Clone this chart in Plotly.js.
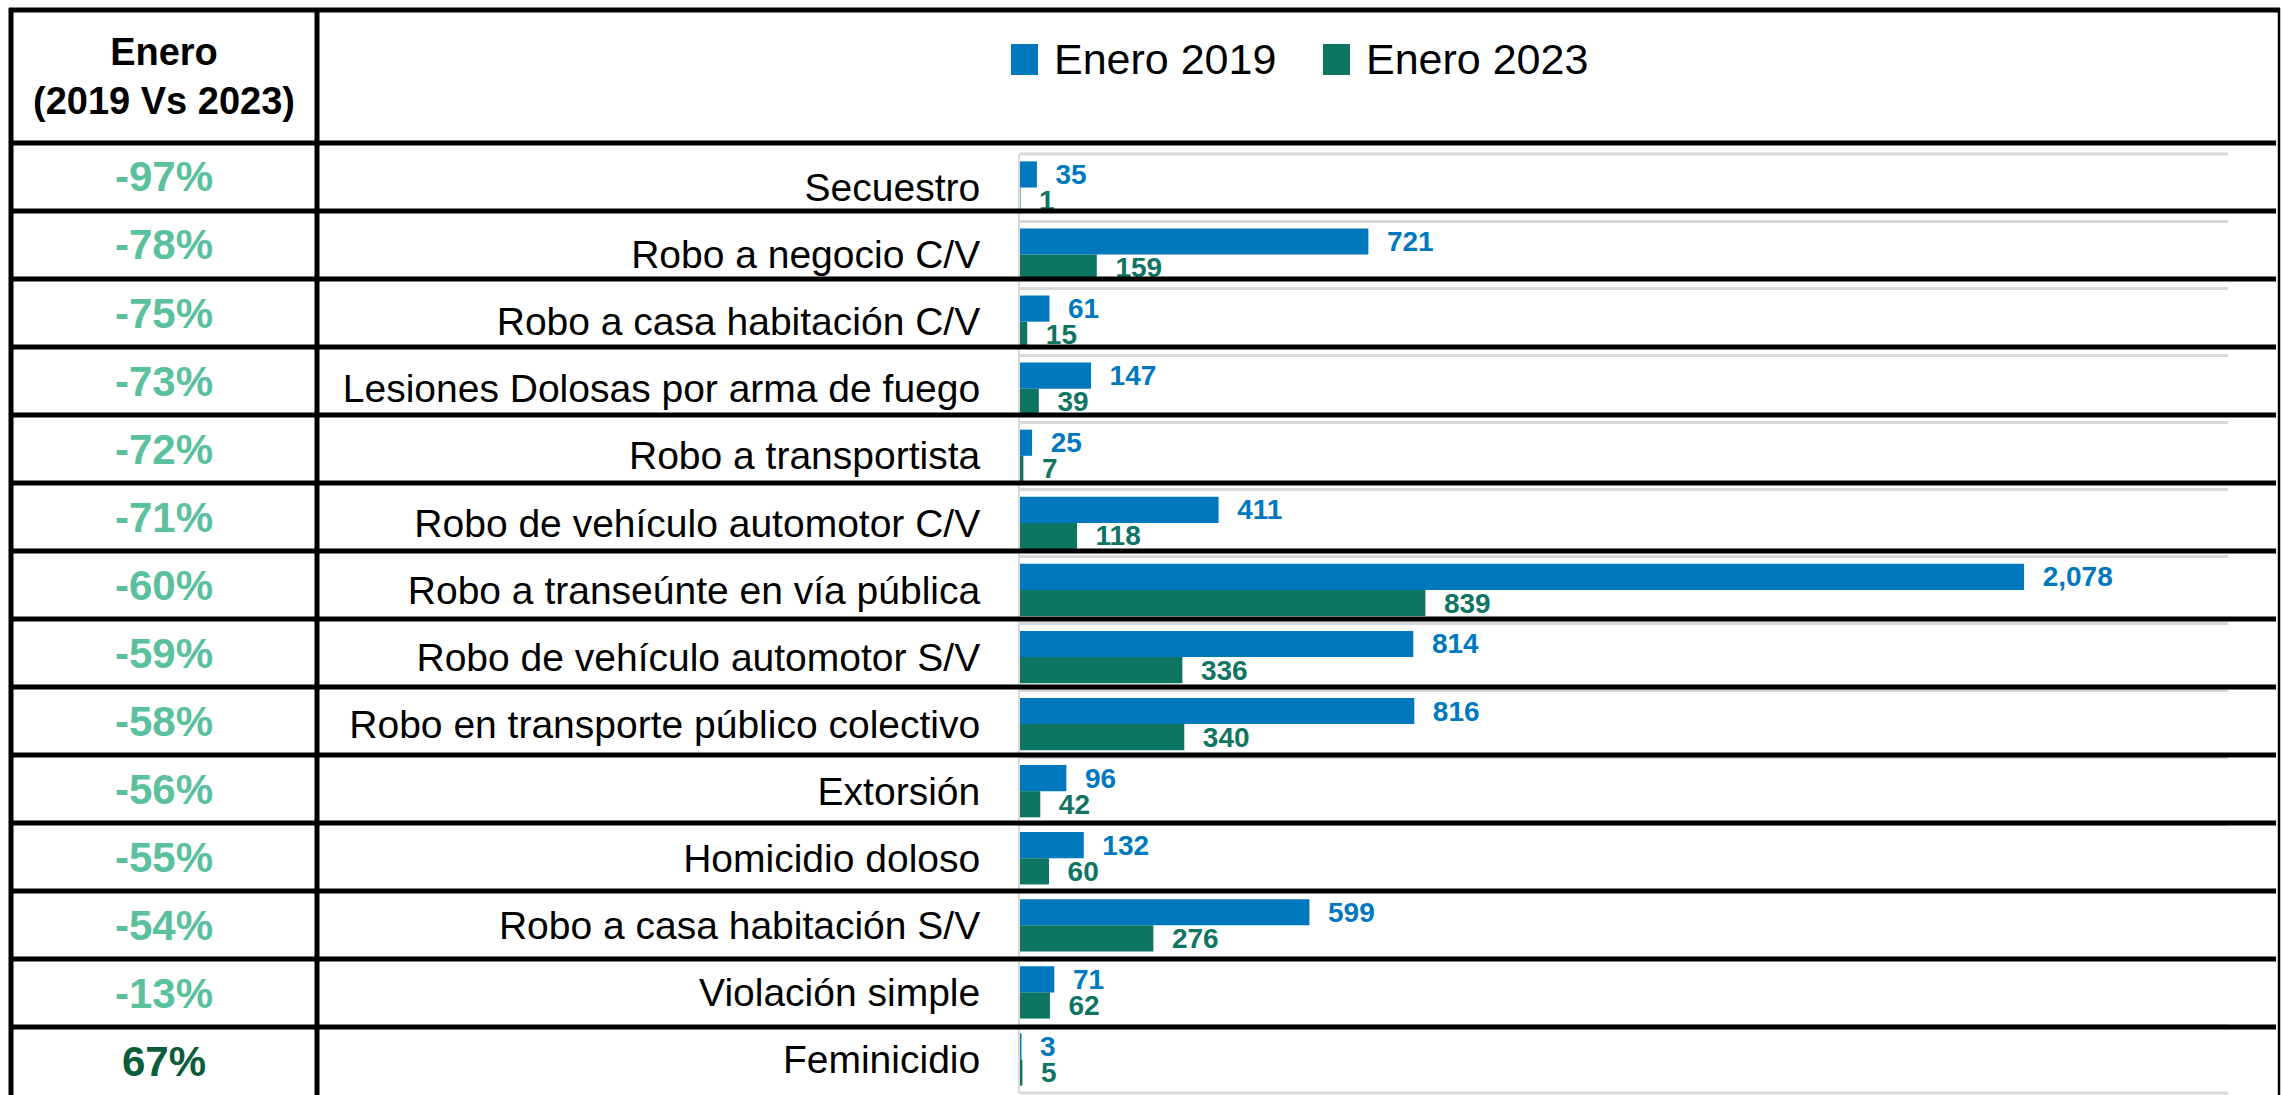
<!DOCTYPE html>
<html>
<head>
<meta charset="utf-8">
<script src="https://cdn.plot.ly/plotly-3.0.1.min.js"></script>
<style>
  html, body { margin: 0; padding: 0; background: #ffffff; }
  #chart { width: 2283px; height: 1095px; }
</style>
</head>
<body>
<div id="chart"></div>
<script>
// ---- data ----
const categories = [
  "Secuestro",
  "Robo a negocio C/V",
  "Robo a casa habitación C/V",
  "Lesiones Dolosas por arma de fuego",
  "Robo a transportista",
  "Robo de vehículo automotor C/V",
  "Robo a transeúnte en vía pública",
  "Robo de vehículo automotor S/V",
  "Robo en transporte público colectivo",
  "Extorsión",
  "Homicidio doloso",
  "Robo a casa habitación S/V",
  "Violación simple",
  "Feminicidio"
];
const enero2019 = [35, 721, 61, 147, 25, 411, 2078, 814, 816, 96, 132, 599, 71, 3];
const enero2023 = [1, 159, 15, 39, 7, 118, 839, 336, 340, 42, 60, 276, 62, 5];
const changePct = [-97, -78, -75, -73, -72, -71, -60, -59, -58, -56, -55, -54, -13, 67];
const seriesNames = ["Enero 2019", "Enero 2023"];
const headerText = "Enero<br>(2019 Vs 2023)";

// ---- styling / geometry ----
const FONT = "'Liberation Sans', Arial, sans-serif";
const BLUE = "#0078BE";
const GREEN = "#0E7563";
const W = 2283, H = 1095;
const M = { l: 1020, r: 55, t: 154, b: 2 };
const PW = W - M.l - M.r, PH = H - M.t - M.b;
const px2x = px => (px - M.l) / PW;
const py2y = py => (H - M.b - py) / PH;

const tableTop = 10, headerBottom = 143, rowH = 68.0;
const xLeft = 11, xDiv = 317, xRight = 2279;

const shapes = [];
const hline = (py, x0, x1, w, color, layer) => shapes.push({
  type: "line", xref: "paper", yref: "paper",
  x0: px2x(x0), x1: px2x(x1), y0: py2y(py), y1: py2y(py),
  line: { color: color || "#000000", width: w }, layer: layer || "above"
});
const vline = (px, y0, y1, w) => shapes.push({
  type: "line", xref: "paper", yref: "paper",
  x0: px2x(px), x1: px2x(px), y0: py2y(y0), y1: py2y(y1),
  line: { color: "#000000", width: w }, layer: "above"
});
// plot-area top and bottom category boundaries (light grey)
shapes.push({ type: "line", xref: "paper", yref: "paper", x0: 0, x1: 1, y0: 1, y1: 1,
  line: { color: "#D9D9D9", width: 3 }, layer: "below" });
shapes.push({ type: "line", xref: "paper", yref: "paper", x0: 0, x1: 1, y0: 0, y1: 0,
  line: { color: "#D9D9D9", width: 3 }, layer: "below" });
// table frame (black)
hline(tableTop, xLeft - 2, xRight + 1, 5);
for (let k = 0; k < categories.length; k++) {
  hline(headerBottom + k * rowH, xLeft - 2, xRight - 3, 5);
}
vline(xLeft, tableTop - 2, H + 5, 5);
vline(xDiv, tableTop - 2, H + 5, 5);
vline(xRight, tableTop - 2, H + 5, 2.5);

// legend swatches (custom, larger than Plotly's fixed swatch)
const legendY = 59;
const legendItems = [
  { x0: 1011, x1: 1038, tx: 1052, color: BLUE },
  { x0: 1323, x1: 1350, tx: 1364, color: GREEN }
];
legendItems.forEach(it => shapes.push({
  type: "rect", xref: "paper", yref: "paper",
  x0: px2x(it.x0), x1: px2x(it.x1), y0: py2y(legendY - 15), y1: py2y(legendY + 16),
  fillcolor: it.color, line: { width: 0 }, layer: "above"
}));

const annotations = [];
legendItems.forEach((it, i) => annotations.push({
  xref: "paper", yref: "paper",
  x: px2x(it.tx), y: py2y(legendY),
  text: seriesNames[i], showarrow: false,
  xanchor: "left", yanchor: "middle",
  font: { family: FONT, size: 43, color: "#000000" }
}));
annotations.push({
  xref: "paper", yref: "paper",
  x: px2x((xLeft + xDiv) / 2), y: py2y((tableTop + headerBottom) / 2),
  text: "<b>" + headerText + "</b>", showarrow: false,
  xanchor: "center", yanchor: "middle",
  font: { family: FONT, size: 38, color: "#000000" }
});
changePct.forEach((v, k) => {
  annotations.push({
    xref: "paper", yref: "paper",
    x: px2x((xLeft + xDiv) / 2), y: py2y(headerBottom + (k + 0.5) * rowH),
    text: "<b>" + v + "%</b>", showarrow: false,
    xanchor: "center", yanchor: "middle",
    font: { family: FONT, size: 42, color: v > 0 ? "#0B5C3A" : "#5BC09E" }
  });
});

const NB = "\u00a0\u00a0";
const traces = [
  {
    type: "bar", orientation: "h", name: seriesNames[0],
    y: categories, x: enero2019,
    marker: { color: BLUE },
    text: enero2019.map(v => NB + v.toLocaleString("en-US")),
    textposition: "outside", cliponaxis: false, constraintext: "none",
    textfont: { family: FONT, size: 28, color: BLUE, weight: "bold" },
    hoverinfo: "skip"
  },
  {
    type: "bar", orientation: "h", name: seriesNames[1],
    y: categories, x: enero2023,
    marker: { color: GREEN },
    text: enero2023.map(v => NB + v.toLocaleString("en-US")),
    textposition: "outside", cliponaxis: false, constraintext: "none",
    textfont: { family: FONT, size: 28, color: GREEN, weight: "bold" },
    hoverinfo: "skip"
  }
];

const layout = {
  width: W, height: H,
  margin: M,
  paper_bgcolor: "#ffffff", plot_bgcolor: "#ffffff",
  font: { family: FONT, color: "#000000" },
  barmode: "group", bargap: 0.22, bargroupgap: 0,
  showlegend: false,
  xaxis: {
    range: [0, 2500], showgrid: false, zeroline: false,
    showticklabels: false, ticks: "", showline: false, fixedrange: true
  },
  yaxis: {
    type: "category", autorange: "reversed",
    tickson: "boundaries", ticks: "",
    showgrid: true, gridcolor: "#D9D9D9", gridwidth: 3,
    showline: true, linecolor: "#D9D9D9", linewidth: 2,
    zeroline: false, ticklabelstandoff: 30,
    tickfont: { family: FONT, size: 39, color: "#000000" },
    fixedrange: true
  },
  shapes: shapes,
  annotations: annotations
};

Plotly.newPlot("chart", traces, layout, { displayModeBar: false, staticPlot: true });
</script>
</body>
</html>
